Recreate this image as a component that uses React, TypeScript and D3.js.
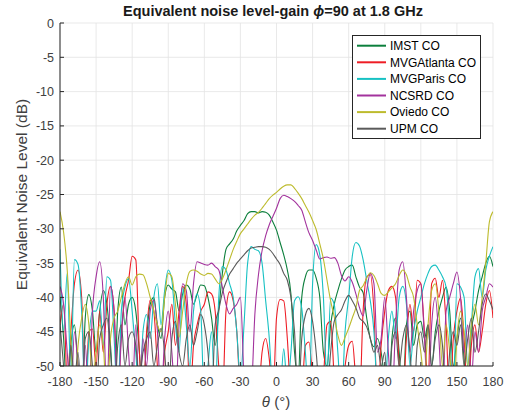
import React from 'react';
import * as d3 from 'd3';

const theta = [
  -180,-177,-174,-171,-168,-165,-162,-159,-156,-153,
  -150,-147,-144,-141,-138,-135,-132,-129,-126,-123,
  -120,-117,-114,-111,-108,-105,-102,-99,-96,-93,
  -90,-87,-84,-81,-78,-75,-72,-69,-66,-63,
  -60,-57,-54,-51,-48,-45,-42,-39,-36,-33,
  -30,-27,-24,-21,-18,-15,-12,-9,-6,-3,
  0,3,6,9,12,15,18,21,24,27,
  30,33,36,39,42,45,48,51,54,57,
  60,63,66,69,72,75,78,81,84,87,
  90,93,96,99,102,105,108,111,114,117,
  120,123,126,129,132,135,138,141,144,147,
  150,153,156,159,162,165,168,171,174,177,
  180,
];

const imst = [
  -40,-46,-55,-47,-44,-50,-55,-43,-39.6,-42,
  -48,-42,-39,-41,-47,-55,-42,-38.5,-44,-41,
  -40,-42,-48,-55,-46,-41,-40,-44,-46,-40,
  -38.2,-38.8,-39.2,-42,-39.5,-38.2,-38.8,-41,-39.5,-38.2,
  -38.3,-40,-43,-47,-42,-36.5,-33,-32.2,-31.5,-30.3,
  -29.5,-28.8,-27.8,-27.5,-27.5,-27.7,-27.5,-27.6,-28,-29,
  -30.2,-32,-33.8,-36,-39.5,-48,-52,-40,-37,-36,
  -36,-37.2,-40,-48,-50,-44,-41,-39,-37.3,-36,
  -35.5,-35.3,-37,-38.5,-39.3,-43,-46,-47.2,-46,-48,
  -52,-55,-46,-43,-48,-55,-44,-42,-47,-44,
  -43.5,-46,-44,-50,-45,-42,-40,-38.5,-42,-50,
  -46,-43,-49,-55,-45,-42,-39,-37,-35,-34,
  -35.5,
];

const mvgAtlanta = [
  -44,-41,-52,-45,-38,-36,-40,-55,-45,-44.6,
  -50,-42,-48,-41,-38.4,-42,-55,-45,-40,-37.5,
  -34,-34.5,-48,-55,-45,-40.4,-42,-50,-55,-48,
  -45,-41,-47,-42,-38.4,-41,-55,-47,-44,-42,
  -41,-39.2,-39.5,-42,-50,-55,-42,-39.2,-40.5,-45,
  -55,-60,-60,-60,-60,-55,-48,-46,-49,-55,
  -43,-40.3,-40.5,-46,-55,-60,-60,-55,-47,-46.5,
  -52,-60,-60,-52,-44,-43.5,-52,-60,-55,-50,
  -47,-46.4,-52,-55,-42,-37,-36.7,-42,-55,-47,
  -42,-39,-38.4,-40,-50,-55,-46,-41,-45,-37.5,
  -38,-45,-52,-38,-37.2,-40,-37.5,-44,-55,-46,
  -42,-40.1,-46,-55,-47,-44,-48,-45,-41,-39,
  -43,
];

const mvgParis = [
  -33,-45,-36.5,-52,-34.5,-35.2,-42,-55,-46,-42,
  -42,-40.5,-47,-37,-37.5,-46,-55,-42,-38.5,-37.3,
  -42,-48,-55,-45,-42.5,-46,-40,-38,-44,-39,
  -36,-37.5,-44,-48,-38.6,-44,-50,-42,-39.5,-42,
  -55,-50,-45,-55,-40,-35.5,-36,-38,-40,-45,
  -52,-44,-35,-32.6,-33,-33.2,-35,-40.5,-46,-55,
  -60,-55,-47.5,-53,-48,-40.5,-39.9,-41.6,-48,-55,
  -38,-32.3,-33.8,-40,-52,-40.1,-41,-48,-55,-45,
  -40,-34,-32,-32.5,-34.5,-37.5,-40.5,-45,-55,-60,
  -55,-46,-42,-46,-40,-38.4,-41,-50,-45,-42,
  -40,-38,-36.5,-35.5,-35.3,-36,-37,-38.5,-45,-55,
  -38,-38.5,-40,-50,-44,-37,-35.8,-40,-36,-34,
  -32.6,
];

const ncsrd = [
  -38.4,-41,-48,-55,-45,-50,-55,-47,-55,-42,
  -37,-34.8,-40,-55,-38.4,-42,-55,-46,-40,-48,
  -55,-44,-55,-46,-50,-42,-40.4,-45,-55,-46,
  -42,-48,-55,-44,-38,-39,-45,-38,-34.8,-35,
  -35.2,-35.3,-35,-35.5,-36,-38.5,-41,-42.4,-41.6,-41,
  -40,-52,-60,-55,-42.5,-36.7,-33.2,-31,-29.4,-28.2,
  -27,-25.6,-25.1,-25.3,-25.6,-26,-26.6,-27.3,-29,-30.6,
  -31.7,-33.1,-34.4,-34.2,-34.1,-34.3,-34.2,-35,-36.8,-37.6,
  -37,-37.8,-39.5,-41.5,-42.7,-39,-36.5,-38,-48,-46,
  -40,-48,-55,-44,-36,-34.8,-40,-48,-42,-39,
  -38,-46,-55,-44,-40,-46,-55,-42,-40,-38,
  -36.3,-40,-48,-44,-52,-45,-48,-42,-40,-38,
  -38.5,
];

const oviedo = [
  -27.5,-30.5,-36,-46,-55,-47,-43,-41,-44,-52,
  -48,-44,-47,-55,-46,-43,-42,-40,-38,-37,
  -38.2,-37,-36.6,-36.7,-38,-40,-42,-44,-45,-40,
  -36.5,-37,-41,-45.8,-42,-38,-36.2,-36,-36.2,-36.6,
  -36.8,-36.5,-36.6,-37.3,-38,-37.3,-36,-34.5,-33,-31.8,
  -30.7,-30,-29.3,-28.6,-28,-27.6,-27,-26.3,-25.6,-25.1,
  -24.7,-24.2,-23.8,-23.6,-23.6,-24.1,-24.8,-25.6,-26.6,-27.6,
  -28.8,-30.1,-32.2,-34.4,-37.5,-40.5,-42.8,-45.5,-47,-45.8,
  -44.5,-43,-41.5,-39,-38.3,-37.2,-36.4,-36.8,-38,-39.4,
  -39.7,-39.2,-38.6,-38,-36.8,-36,-36.7,-38.5,-40,-44,
  -48,-52,-44,-39,-38,-42,-50,-44,-48,-55,
  -46,-42,-45,-50,-44,-41,-44,-40,-35,-29,
  -27.5,
];

const upm = [
  -43.8,-50,-55,-47,-52,-48,-55,-46,-45,-50,
  -55,-46,-44,-43,-48,-55,-47,-44,-50,-46,
  -45,-47,-52,-48,-46,-45,-50,-47,-44.5,-48,
  -55,-46,-43.5,-48,-50,-46,-44,-47,-45,-42.5,
  -44,-48,-55,-44,-41.8,-39.3,-37.8,-36.6,-35.8,-35,
  -34.4,-33.8,-33.2,-32.8,-32.7,-32.6,-32.6,-32.7,-33,-33.6,
  -34.4,-35.2,-36.5,-37.5,-40,-45,-55,-46,-42.6,-41.6,
  -43.5,-48,-55,-60,-55,-48,-43.5,-42.5,-41.8,-40.5,
  -39.7,-40.5,-41.5,-43,-43.5,-44.3,-46,-48,-47,-50,
  -48,-55,-47,-45,-50,-46,-44,-48,-55,-47,
  -45,-48,-44,-50,-46,-44,-47,-55,-48,-45,
  -47,-44,-50,-46,-43,-48,-45,-41,-39.5,-40.5,
  -41.8,
];

const seriesNames = ['IMST CO', 'MVGAtlanta CO', 'MVGParis CO', 'NCSRD CO', 'Oviedo CO', 'UPM CO'];
const seriesData = [imst, mvgAtlanta, mvgParis, ncsrd, oviedo, upm];
const seriesColors = ['#0c7f3c', '#ee1d25', '#17c1c3', '#a3339d', '#bdbb2d', '#5a5a5a'];

const xTicks = [-180, -150, -120, -90, -60, -30, 0, 30, 60, 90, 120, 150, 180];
const yTicks = [0, -5, -10, -15, -20, -25, -30, -35, -40, -45, -50];

const FONT = "'Liberation Sans', Arial, Helvetica, sans-serif";

export default function App() {
  const W = 512, H = 415;
  const x = d3.scaleLinear().domain([-180, 180]).range([60, 493]);
  const y = d3.scaleLinear().domain([-50, 0]).range([366, 23]);
  const line = d3.line<number>()
    .x((_, i) => x(theta[i]))
    .y(d => y(d))
    .curve(d3.curveMonotoneX);

  const legendX = 352.5, legendY = 35.5, legendW = 128, legendH = 103;

  return (
    <svg width={W} height={H} style={{ position: 'absolute', left: 0, top: 0, background: '#fff' }} fontFamily={FONT}>
      <defs>
        <clipPath id="plotclip">
          <rect x={x(-180)} y={y(0)} width={x(180) - x(-180)} height={y(-50) - y(0)} />
        </clipPath>
      </defs>
      <rect x={0} y={0} width={W} height={H} fill="#fff" />
      {xTicks.map(t => (
        <line key={'gx' + t} x1={x(t)} x2={x(t)} y1={y(0)} y2={y(-50)} stroke="#e3e3e3" strokeWidth={0.8} />
      ))}
      {yTicks.map(t => (
        <line key={'gy' + t} x1={x(-180)} x2={x(180)} y1={y(t)} y2={y(t)} stroke="#e3e3e3" strokeWidth={0.8} />
      ))}
      <g clipPath="url(#plotclip)">
        {seriesData.map((s, k) => (
          <path key={seriesNames[k]} d={line(s) || ''} fill="none" stroke={seriesColors[k]} strokeWidth={1.1} strokeLinejoin="round" />
        ))}
      </g>
      <line x1={x(-180)} x2={x(-180)} y1={y(0)} y2={y(-50)} stroke="#262626" strokeWidth={1} />
      <line x1={x(-180)} x2={x(180)} y1={y(-50)} y2={y(-50)} stroke="#262626" strokeWidth={1} />
      {xTicks.map(t => (
        <g key={'xt' + t}>
          <line x1={x(t)} x2={x(t)} y1={y(-50)} y2={y(-50) - 4} stroke="#262626" strokeWidth={1} />
          <text x={x(t)} y={386} textAnchor="middle" fontSize={12.5} fill="#404040">{t}</text>
        </g>
      ))}
      {yTicks.map(t => (
        <g key={'yt' + t}>
          <line x1={x(-180)} x2={x(-180) + 4} y1={y(t)} y2={y(t)} stroke="#262626" strokeWidth={1} />
          <text x={54} y={y(t) + 4.5} textAnchor="end" fontSize={12.5} fill="#404040">{t}</text>
        </g>
      ))}
      <text x={273} y={16} textAnchor="middle" fontSize={14.5} fontWeight="bold" fill="#1a1a1a">
        Equivalent noise level-gain <tspan fontStyle="italic">ϕ</tspan>=90 at 1.8 GHz
      </text>
      <text x={276} y={407} textAnchor="middle" fontSize={15} fill="#404040">
        <tspan fontStyle="italic">θ</tspan> (°)
      </text>
      <text transform={`translate(27,${(y(0) + y(-50)) / 2}) rotate(-90)`} textAnchor="middle" fontSize={15.5} fill="#404040">
        Equivalent Noise Level (dB)
      </text>
      <rect x={legendX} y={legendY} width={legendW} height={legendH} fill="#fff" stroke="#262626" strokeWidth={1} />
      {seriesNames.map((n, k) => {
        const yy = 45.7 + k * 16.6;
        return (
          <g key={'lg' + n}>
            <line x1={357} x2={386} y1={yy} y2={yy} stroke={seriesColors[k]} strokeWidth={2} />
            <text x={390} y={yy + 4.2} fontSize={12} fill="#000">{n}</text>
          </g>
        );
      })}
    </svg>
  );
}
